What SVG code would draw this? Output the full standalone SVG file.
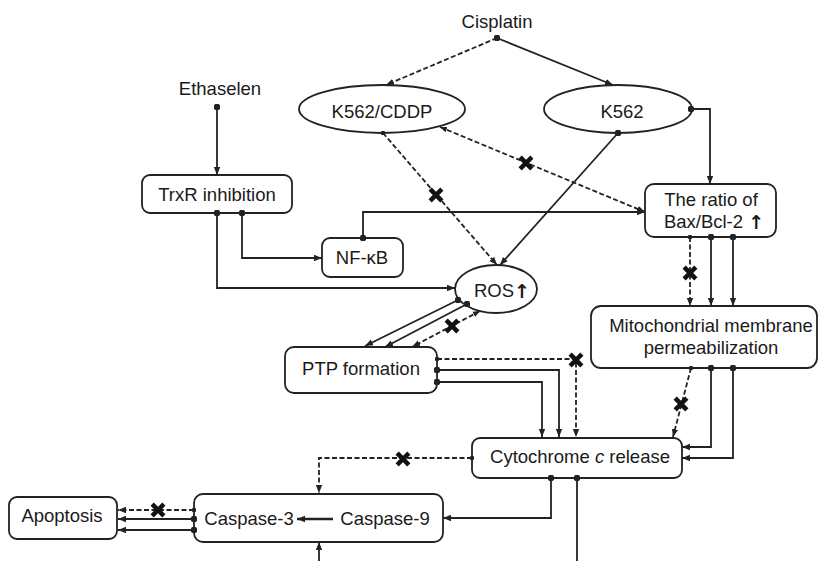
<svg xmlns="http://www.w3.org/2000/svg" width="819" height="561" viewBox="0 0 819 561">
<style>
  text { font-family: "Liberation Sans", Arial, sans-serif; font-size: 18.5px; fill: #1a1a1a; text-anchor: middle; }
  .up { font-family: "DejaVu Sans", sans-serif; font-weight: bold; font-size: 19px; fill: #1a1a1a; }
  .box { fill: #fff; stroke: #222; stroke-width: 1.8; }
  .c { fill: none; stroke: #222; stroke-width: 1.8; marker-start: url(#dot); marker-end: url(#arr); }
  .d { fill: none; stroke: #222; stroke-width: 1.8; stroke-dasharray: 5 2.5; marker-start: url(#sdot); marker-end: url(#arr); }
  .x { stroke: #111; stroke-width: 4.5; stroke-linecap: square; fill: none; }
</style>
<defs>
  <marker id="arr" viewBox="0 0 10 10" refX="10" refY="5" markerWidth="8" markerHeight="8" markerUnits="userSpaceOnUse" orient="auto">
    <path d="M0,1 L10,5 L0,9 z" fill="#222"/>
  </marker>
  <marker id="dot" viewBox="0 0 10 10" refX="5" refY="5" markerWidth="6.5" markerHeight="6.5" markerUnits="userSpaceOnUse">
    <circle cx="5" cy="5" r="5" fill="#222"/>
  </marker>
  <marker id="sdot" viewBox="0 0 10 10" refX="5" refY="5" markerWidth="4.5" markerHeight="4.5" markerUnits="userSpaceOnUse">
    <circle cx="5" cy="5" r="5" fill="#222"/>
  </marker>
  <marker id="sarr" viewBox="0 0 10 10" refX="10" refY="5" markerWidth="7" markerHeight="7" markerUnits="userSpaceOnUse" orient="auto-start-reverse">
    <path d="M0,1 L10,5 L0,9 z" fill="#222"/>
  </marker>
  <path id="xm" class="x" d="M-4.3,-4.3 L4.3,4.3 M4.3,-4.3 L-4.3,4.3"/>
</defs>
<rect width="819" height="561" fill="#fff"/>

<g id="cisplatin"><text x="497" y="28">Cisplatin</text></g>
<g id="ethaselen"><text x="220" y="95">Ethaselen</text></g>
<g id="k562cddp"><ellipse class="box" cx="382" cy="109" rx="83" ry="24"/><text x="382" y="118">K562/CDDP</text></g>
<g id="k562"><ellipse class="box" cx="618" cy="109" rx="74" ry="24"/><text x="622" y="118">K562</text></g>
<g id="trxr"><rect class="box" x="142" y="175" width="150" height="38" rx="8"/><text x="217" y="201">TrxR inhibition</text></g>
<g id="nfkb"><rect class="box" x="322" y="238" width="81" height="39" rx="8"/><text x="362" y="264">NF-κB</text></g>
<g id="bax"><rect class="box" x="645" y="184" width="131" height="53" rx="9"/><text x="711" y="206">The ratio of</text><text x="714" y="228">Bax/Bcl-2 <tspan class="up" dy="1">↑</tspan></text></g>
<g id="ros"><ellipse class="box" cx="496" cy="289" rx="41" ry="24"/><text x="502" y="297">ROS<tspan class="up" dy="1">↑</tspan></text></g>
<g id="mito"><rect class="box" x="591" y="306" width="226" height="62" rx="10"/><text x="711" y="332">Mitochondrial membrane</text><text x="711" y="354">permeabilization</text></g>
<g id="ptp"><rect class="box" x="285" y="347" width="152" height="46" rx="9"/><text x="361" y="375">PTP formation</text></g>
<g id="cyto"><rect class="box" x="472" y="438" width="210" height="40" rx="8"/><text x="580" y="463">Cytochrome <tspan font-style="italic">c</tspan> release</text></g>
<g id="caspase"><rect class="box" x="194" y="494" width="249" height="48" rx="9"/><text x="249" y="525">Caspase-3</text><text x="385" y="525">Caspase-9</text></g>
<g id="apoptosis"><rect class="box" x="9" y="497" width="108" height="42" rx="8"/><text x="62" y="522">Apoptosis</text></g>

<g id="connectors">
  <path class="d" d="M497,38 L386,85"/>
  <path class="c" d="M497,38 L613,85"/>
  <path class="c" d="M217,107 L217,175"/>
  <path class="c" d="M242,213 V258 H322"/>
  <path class="c" d="M217,213 V288 H455"/>
  <path class="c" d="M363,238 V212 H645"/>
  <path class="c" d="M691,109 H710 V184"/>
  <path class="d" d="M383,133 L497,265"/>
  <path class="d" style="marker-start:url(#sarr)" d="M440,127 L645,212"/>
  <path class="c" d="M618,133 L500,265"/>
  <path class="c" d="M458,300 L365,346"/>
  <path class="c" d="M467,304 L385,347"/>
  <path class="d" style="marker-start:url(#sarr)" d="M480,311 L412,347"/>
  <path class="d" d="M437,359 H576 V437"/>
  <path class="c" d="M437,370 H559 V437"/>
  <path class="c" d="M437,382 H542 V437"/>
  <path class="d" d="M690,237 V306"/>
  <path class="c" d="M711,237 V306"/>
  <path class="c" d="M733,237 V306"/>
  <path class="d" d="M691,368 L673,437"/>
  <path class="c" d="M711,368 V447 H682"/>
  <path class="c" d="M733,368 V458 H682"/>
  <path class="d" d="M472,458 H319 V493"/>
  <path class="c" d="M551,478 V518 H443"/>
  <path class="c" style="marker-end:none" d="M577,478 V561"/>
  <path class="c" style="marker-start:none" d="M319,561 V542"/>
  <path class="c" style="marker-start:none;stroke-width:2.4" d="M333,519 H297"/>
  <path class="d" d="M194,510 H118"/>
  <path class="c" d="M194,519 H118"/>
  <path class="c" d="M194,530 H118"/>
  <use href="#xm" x="436" y="195"/>
  <use href="#xm" x="526" y="163"/>
  <use href="#xm" x="452" y="326"/>
  <use href="#xm" x="576" y="360"/>
  <use href="#xm" x="690" y="273"/>
  <use href="#xm" x="681" y="404"/>
  <use href="#xm" x="403" y="459"/>
  <use href="#xm" x="158" y="510"/>
</g>
</svg>
